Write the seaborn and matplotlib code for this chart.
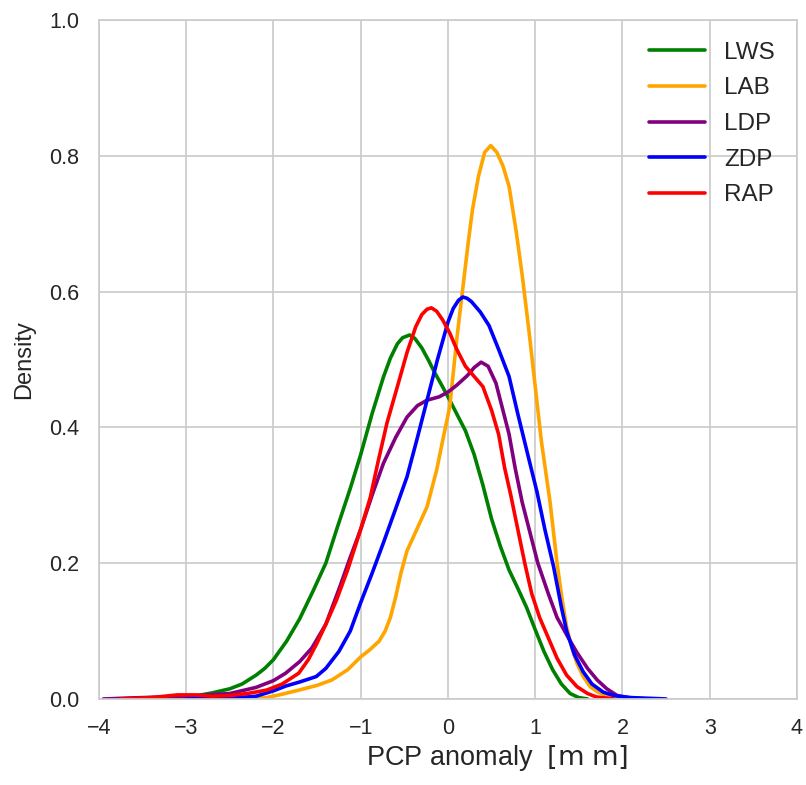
import matplotlib
matplotlib.use("Agg")
import matplotlib.pyplot as plt
import seaborn as sns
import numpy as np
import pandas as pd

# ---- data (x position, density) ----
lws_x = [-3.9, -3.0, -2.7, -2.5, -2.36, -2.2, -2.1, -2.0, -1.85, -1.7, -1.55, -1.4, -1.27, -1.12, -1.0,
         -0.87, -0.74, -0.66, -0.58, -0.52, -0.44, -0.38, -0.3, -0.22, -0.15, -0.08, 0.0, 0.1, 0.2, 0.3, 0.4,
         0.5, 0.6, 0.7, 0.8, 0.9, 1.0, 1.1, 1.2, 1.3, 1.4, 1.5, 1.6]
lws_y = [0.0, 0.002, 0.009, 0.015, 0.022, 0.035, 0.045, 0.058, 0.085, 0.118, 0.158, 0.200, 0.252, 0.31, 0.36,
         0.42, 0.474, 0.502, 0.523, 0.532, 0.536, 0.531, 0.517, 0.498, 0.48, 0.464, 0.445, 0.42, 0.395, 0.36, 0.315,
         0.265, 0.225, 0.19, 0.163, 0.135, 0.102, 0.07, 0.043, 0.022, 0.008, 0.002, 0.0]

lab_x = [-2.3, -2.08, -1.9, -1.71, -1.5, -1.33, -1.15, -1.0, -0.9, -0.79, -0.72, -0.66, -0.6, -0.54, -0.47,
         -0.36, -0.24, -0.13, -0.06, 0.02, 0.1, 0.17, 0.23, 0.28, 0.35, 0.42, 0.49, 0.56, 0.63, 0.70,
         0.78, 0.85, 0.93, 1.0, 1.07, 1.17, 1.25, 1.31, 1.36, 1.42, 1.48, 1.55, 1.63, 1.72, 1.82, 2.0, 2.2]
lab_y = [0.0, 0.002, 0.007, 0.013, 0.02, 0.028, 0.043, 0.062, 0.072, 0.085, 0.1, 0.12, 0.15, 0.185, 0.218,
         0.249, 0.283, 0.337, 0.381, 0.43, 0.529, 0.605, 0.67, 0.72, 0.77, 0.805, 0.815, 0.805, 0.785, 0.755,
         0.69, 0.625, 0.54, 0.46, 0.38, 0.29, 0.2, 0.145, 0.106, 0.075, 0.052, 0.033, 0.018, 0.01, 0.005, 0.001, 0.0]

ldp_x = [-3.95, -3.5, -3.0, -2.5, -2.2, -2.0, -1.86, -1.7, -1.56, -1.4, -1.24, -1.13, -1.0, -0.87,
         -0.74, -0.6, -0.47, -0.35, -0.24, -0.1, 0.0, 0.1, 0.22, 0.3, 0.38, 0.46, 0.55, 0.62, 0.70,
         0.77, 0.85, 0.93, 1.03, 1.15, 1.25, 1.38, 1.48, 1.6, 1.71, 1.82, 1.94, 2.1, 2.3]
ldp_y = [0.0, 0.002, 0.004, 0.008, 0.017, 0.027, 0.038, 0.055, 0.075, 0.11, 0.165, 0.205, 0.25, 0.3,
         0.347, 0.385, 0.415, 0.432, 0.44, 0.445, 0.452, 0.462, 0.476, 0.488, 0.496, 0.49, 0.465, 0.43, 0.39,
         0.34, 0.29, 0.25, 0.2, 0.155, 0.12, 0.09, 0.068, 0.045, 0.028, 0.015, 0.005, 0.001, 0.0]

zdp_x = [-3.0, -2.5, -2.2, -2.0, -1.86, -1.7, -1.51, -1.4, -1.25, -1.12, -1.0, -0.87, -0.74, -0.6,
         -0.47, -0.35, -0.24, -0.12, 0.0, 0.06, 0.12, 0.17, 0.22, 0.27, 0.37, 0.47, 0.58, 0.70, 0.8, 0.92, 1.02,
         1.11, 1.21, 1.30, 1.36, 1.45, 1.55, 1.65, 1.78, 1.9, 2.1, 2.5]
zdp_y = [0.0, 0.001, 0.004, 0.012, 0.019, 0.025, 0.033, 0.045, 0.07, 0.1, 0.142, 0.185, 0.23, 0.28,
         0.327, 0.385, 0.44, 0.5, 0.555, 0.575, 0.587, 0.592, 0.59, 0.585, 0.57, 0.55, 0.515, 0.475, 0.42, 0.357, 0.305,
         0.25, 0.195, 0.135, 0.1, 0.065, 0.04, 0.022, 0.01, 0.005, 0.002, 0.0]

rap_x = [-3.75, -3.4, -3.1, -2.9, -2.7, -2.5, -2.3, -2.08, -1.9, -1.71, -1.6, -1.51, -1.4, -1.28,
         -1.15, -1.0, -0.89, -0.8, -0.70, -0.58, -0.47, -0.37, -0.3, -0.24, -0.19, -0.13, -0.06, 0.02, 0.1, 0.2,
         0.3, 0.4, 0.5, 0.58, 0.65, 0.72, 0.8, 0.88, 0.96, 1.05, 1.15, 1.25, 1.36, 1.48, 1.6, 1.7, 1.9]
rap_y = [0.0, 0.002, 0.006, 0.006, 0.004, 0.005, 0.008, 0.013, 0.022, 0.038, 0.058, 0.08, 0.11, 0.145,
         0.19, 0.25, 0.297, 0.35, 0.406, 0.46, 0.51, 0.548, 0.566, 0.574, 0.576, 0.571, 0.558, 0.539, 0.515, 0.49,
         0.475, 0.46, 0.425, 0.39, 0.34, 0.30, 0.25, 0.2, 0.155, 0.12, 0.09, 0.06, 0.035, 0.018, 0.008, 0.003, 0.0]

names = ["LWS", "LAB", "LDP", "ZDP", "RAP"]
colors = ["green", "orange", "purple", "blue", "red"]
series = [(lws_x, lws_y), (lab_x, lab_y), (ldp_x, ldp_y), (zdp_x, zdp_y), (rap_x, rap_y)]

x_ticks = [-4, -3, -2, -1, 0, 1, 2, 3, 4]
y_ticks = [0.0, 0.2, 0.4, 0.6, 0.8, 1.0]

sns.set_theme(style="whitegrid")
plt.rcParams['font.family'] = ['Liberation Sans', 'DejaVu Sans']
plt.rcParams['axes.unicode_minus'] = True

fig = plt.figure(figsize=(8.06, 7.85), dpi=100)
ax = fig.add_axes([0.1228, 0.1096, 0.866, 0.865])

for (xs, ys), n, c in zip(series, names, colors):
    df = pd.DataFrame({"x": xs, "Density": ys})
    sns.lineplot(data=df, x="x", y="Density", color=c, lw=2.6, label=n, ax=ax, sort=False)

ax.set_xlim(-4, 4)
ax.set_ylim(0, 1.0)
ax.set_xticks(x_ticks)
ax.set_yticks(y_ticks)
ax.set_xticklabels([("\u2212" + str(abs(t))) if t < 0 else str(t) for t in x_ticks])
ax.set_yticklabels([f"{t:.1f}" for t in y_ticks])
ax.tick_params(labelsize=15.5, colors="#262626", pad=8)
ax.set_xlabel(r"PCP anomaly  $\left[\mathrm{m}\;\mathrm{m}\right]$", fontsize=19.5, color="#262626")
ax.xaxis.set_label_coords(0.57, -0.065)
ax.set_ylabel("Density", fontsize=17, color="#262626", labelpad=10)
for s in ax.spines.values():
    s.set_color("#cccccc")
    s.set_linewidth(1.25)
ax.grid(True, color="#cccccc", lw=1.25)
leg = ax.legend(loc="upper right", fontsize=17.5, frameon=False, handlelength=2.3,
                labelspacing=0.56, borderaxespad=0.5)

fig.savefig("out.png", dpi=100)
